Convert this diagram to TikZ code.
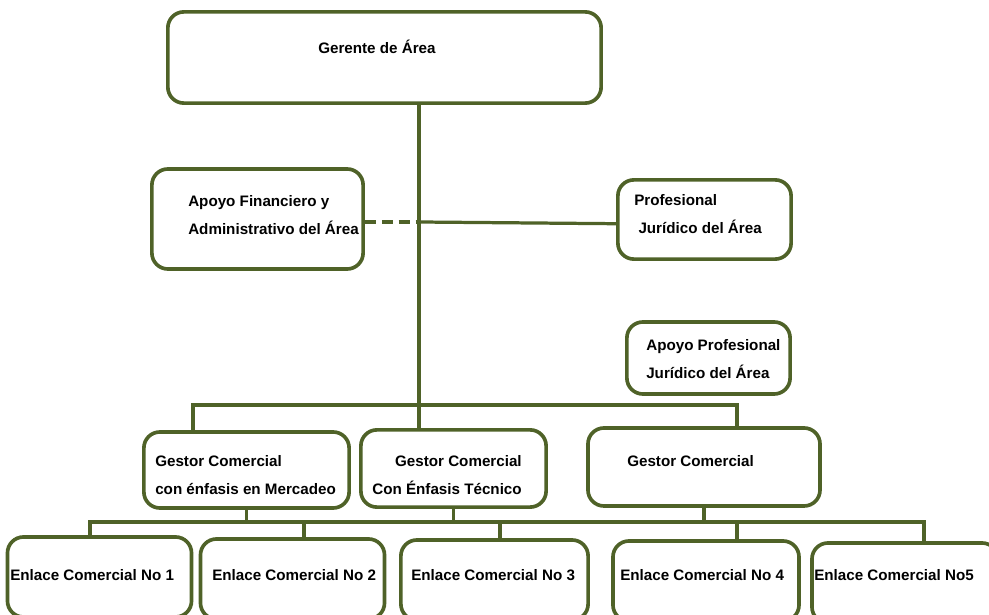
\documentclass[tikz,border=0pt]{standalone}
\usepackage{fontspec}
\setmainfont{Liberation Sans}
\definecolor{olivegreen}{HTML}{4F6228}

\begin{document}
\begin{tikzpicture}[x=0.025cm, y=-0.025cm, box/.style={draw=olivegreen, line width=2.6pt, rounded corners=0.4cm}, lbl/.style={font=\fontsize{10.8}{20}\selectfont\bfseries, align=left, inner sep=0pt, anchor=west}, conn/.style={draw=olivegreen, line width=2.3pt}]
    \useasboundingbox (0,0) rectangle (989,615);
    % Define boxes
    \node[box, minimum width=10.83cm, minimum height=2.28cm] (ger) at (384.5,57.5) {};
    \node[box, minimum width=5.28cm, minimum height=2.5cm] (fin) at (257.5,219) {};
    \node[box, minimum width=4.33cm, minimum height=1.98cm] (jur) at (704.5,219.5) {};
    \node[box, minimum width=4.08cm, minimum height=1.8cm] (apj) at (708.5,358) {};
    \node[box, minimum width=5.13cm, minimum height=1.9cm] (g1) at (246.5,470) {};
    \node[box, minimum width=4.63cm, minimum height=1.93cm] (g2) at (453.5,468.5) {};
    \node[box, minimum width=5.8cm, minimum height=1.95cm] (g3) at (704,467) {};
    \node[box, minimum width=4.6cm, minimum height=2cm] (e1) at (99.5,577) {};
    \node[box, minimum width=4.6cm, minimum height=2cm] (e2) at (292.5,579) {};
    \node[box, minimum width=4.68cm, minimum height=2cm] (e3) at (494.5,580) {};
    \node[box, minimum width=4.65cm, minimum height=2cm] (e4) at (706,581) {};
    \node[box, minimum width=4.65cm, minimum height=2cm] (e5) at (905,583) {};

    % Box texts
    \node[lbl] (gerL) at (318,47) {Gerente de Área};
    \node[lbl] (finL) at (188,215) {Apoyo Financiero y\\Administrativo del Área};
    \node[lbl] (jurL) at (634,214.5) {Profesional\\\ Jurídico del Área};
    \node[lbl] (apjL) at (646,359) {Apoyo Profesional\\Jurídico del Área};
    \node[lbl] (g1L) at (155,475) {Gestor Comercial\\con énfasis en Mercadeo};
    \node[lbl, align=right, anchor=east] (g2L) at (522,475) {Gestor Comercial\\Con Énfasis Técnico};
    \node[lbl] (g3L) at (627,461) {Gestor Comercial};
    \node[lbl] (e1L) at (10,575) {Enlace Comercial No 1};
    \node[lbl] (e2L) at (212,575) {Enlace Comercial No 2};
    \node[lbl] (e3L) at (411,575) {Enlace Comercial No 3};
    \node[lbl] (e4L) at (620,575) {Enlace Comercial No 4};
    \node[lbl] (e5L) at (814,575) {Enlace Comercial No5};

    % Junction points
    \coordinate (t1) at (419,222);
    \coordinate (t2) at (419,405);
    \coordinate (d1) at (193,405);
    \coordinate (d3) at (737,405);
    \coordinate (h1) at (90,522);
    \coordinate (h5) at (924,522);

    % Draw connectors
    \draw[conn] (ger.south -| t2) -- (g2.north -| t2); % trunk
    \draw[conn, dash pattern=on 8pt off 4pt] (fin.east |- t1) -- (t1); % staff line
    \draw[conn] (t1) -- ([yshift=-3pt]jur.west);
    \draw[conn] (g1.north -| d1) -- (d1) -- (d3) -- (g3.north -| d3);
    \draw[conn] (e1.north -| h1) -- (h1) -- (h5) -- (e5.north -| h5);
    \draw[conn] (g1.south) -- (g1.south |- h1);
    \draw[conn] (g2.south) -- (g2.south |- h1);
    \draw[conn] (g3.south) -- (g3.south |- h1);
    \draw[conn] (e2.north -| 304,0) -- (304,522);
    \draw[conn] (e3.north -| 500,0) -- (500,522);
    \draw[conn] (e4.north -| d3) -- (e4.north |- h1 -| d3);
\end{tikzpicture}
\end{document}
